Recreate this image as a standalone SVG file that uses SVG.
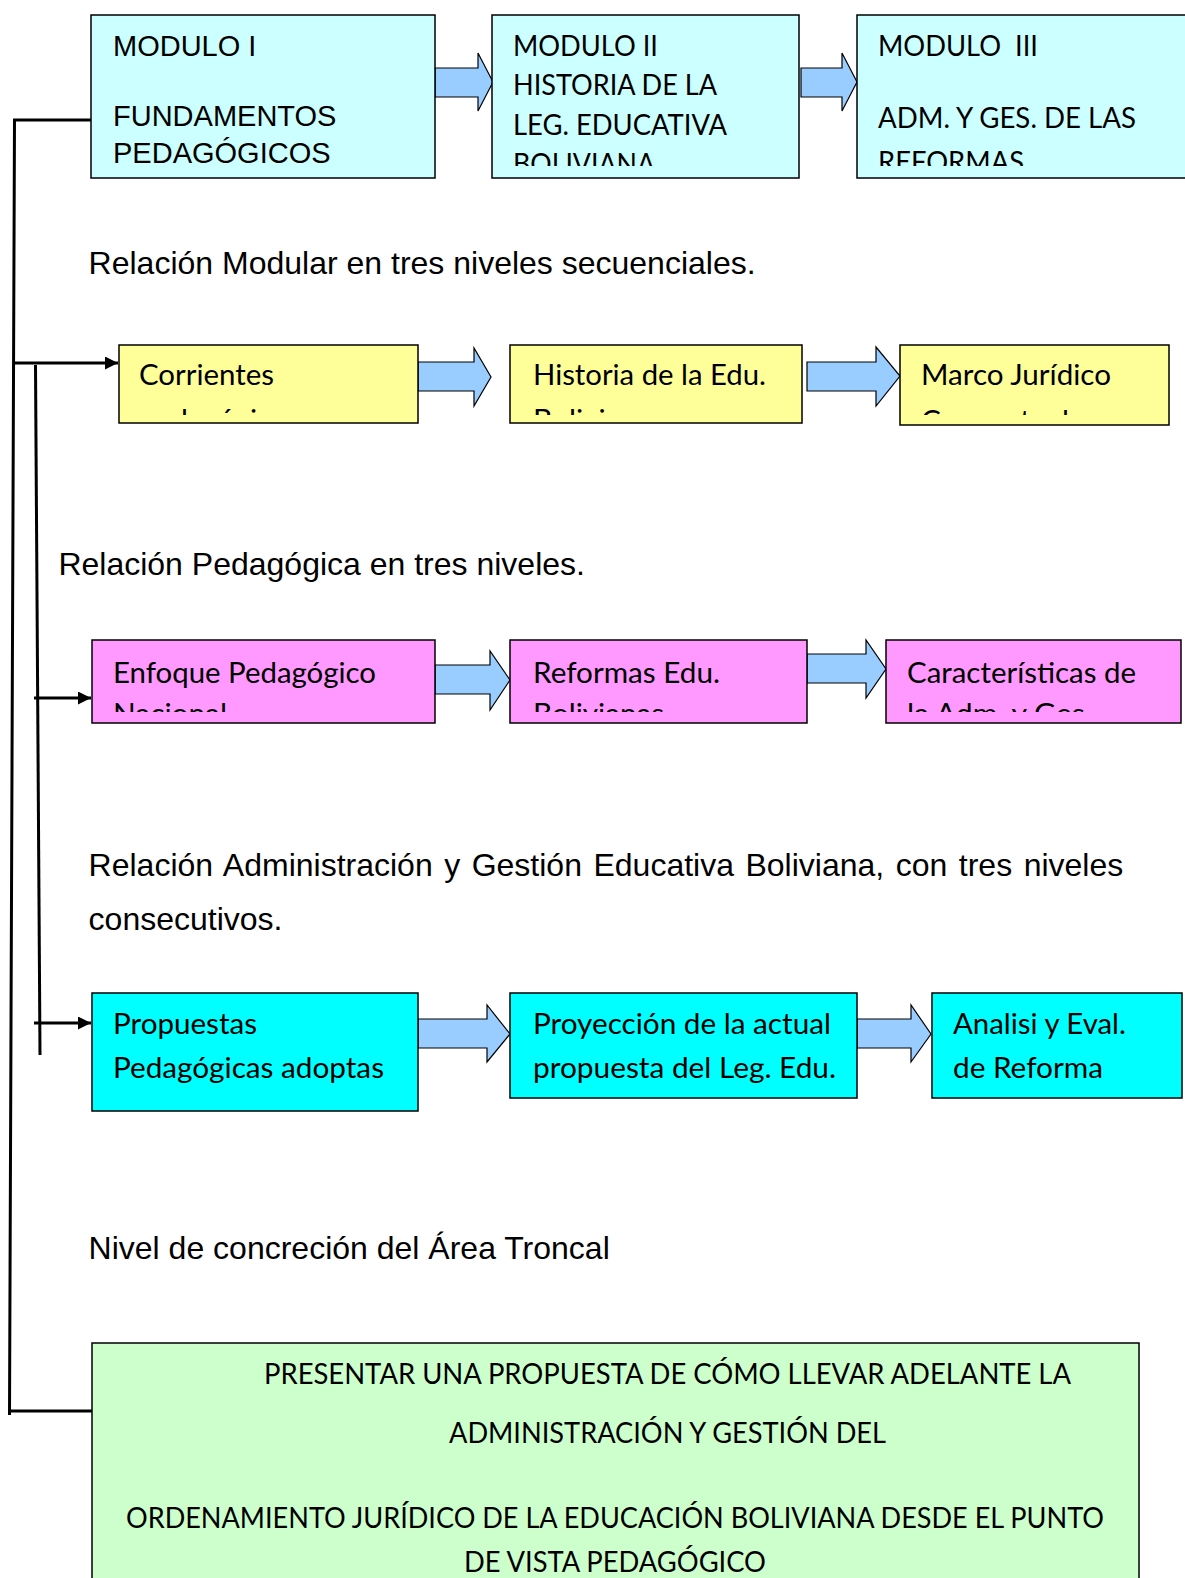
<svg xmlns="http://www.w3.org/2000/svg" width="1185" height="1578" viewBox="0 0 1185 1578">
<style>
.box{stroke:#000;stroke-width:1.5}
.m1{fill:#CCFFFF}.ye{fill:#FFFF99}.pk{fill:#FF99FF}.cy{fill:#00FFFF}.gr{fill:#CCFFCC}
.ba{fill:#99CCFF;stroke:#000;stroke-width:1.2}
.ar{font-family:"Liberation Sans",Arial,sans-serif;fill:#000}
.ca{font-family:Lato,"Open Sans",sans-serif;font-size:28.8px;fill:#000}
.conn{stroke:#000;stroke-width:3;fill:none}
</style>
<defs>
<marker id="ah" viewBox="0 0 10 10" refX="10" refY="5" markerUnits="userSpaceOnUse" markerWidth="15" markerHeight="13" orient="auto">
<path d="M0,0 L10,5 L0,10 z" fill="#000"/>
</marker>
<clipPath id="clip1"><rect x="0" y="0" width="1185" height="166"/></clipPath>
<clipPath id="clip2"><rect x="0" y="330" width="1185" height="85"/></clipPath>
<clipPath id="clip3"><rect x="0" y="630" width="1185" height="82"/></clipPath>
</defs>
<rect width="1185" height="1578" fill="#fff"/>

<g id="connectors">
<polyline class="conn" points="91,120 14.5,120 9.5,1415"/>
<line class="conn" x1="10" y1="1411" x2="92" y2="1411"/>
<line class="conn" x1="35.5" y1="365" x2="40" y2="1055"/>
<line class="conn" x1="14" y1="363" x2="118" y2="363" marker-end="url(#ah)"/>
<line class="conn" x1="34" y1="698" x2="91" y2="698" marker-end="url(#ah)"/>
<line class="conn" x1="34" y1="1023" x2="91" y2="1023" marker-end="url(#ah)"/>
<polygon class="ba" points="435,68 478,68 478,53 493,82 478,111 478,97 435,97"/>
<polygon class="ba" points="801,68 842,68 842,53 857,82 842,111 842,97 801,97"/>
<polygon class="ba" points="418,362 474,362 474,348 491,377 474,406 474,391 418,391"/>
<polygon class="ba" points="807,362 876,362 876,347 900,376 876,406 876,391 807,391"/>
<polygon class="ba" points="435,665 490,665 490,651 510,680 490,710 490,694 435,694"/>
<polygon class="ba" points="807,654 866,654 866,640 886,669 866,698 866,683 807,683"/>
<polygon class="ba" points="418,1019 487,1019 487,1005 510,1034 487,1062 487,1048 418,1048"/>
<polygon class="ba" points="857,1019 911,1019 911,1005 931,1034 911,1062 911,1048 857,1048"/>
</g>

<g id="modulo1">
<rect class="box m1" x="91" y="15" width="344" height="163"/>
<text class="ar" font-size="29" x="113" y="56">MODULO I</text>
<text class="ar" font-size="29" x="113" y="126">FUNDAMENTOS</text>
<text class="ar" font-size="29" x="113" y="163">PEDAGÓGICOS</text>
</g>
<g id="modulo2">
<rect class="box m1" x="492" y="15" width="307" height="163"/>
<g clip-path="url(#clip1)" class="ca">
<text x="513" y="56" textLength="145" lengthAdjust="spacingAndGlyphs">MODULO II</text>
<text x="513" y="95" textLength="204" lengthAdjust="spacingAndGlyphs">HISTORIA DE LA</text>
<text x="513" y="134.5" textLength="214" lengthAdjust="spacingAndGlyphs">LEG. EDUCATIVA</text>
<text x="513" y="173.5" textLength="142" lengthAdjust="spacingAndGlyphs">BOLIVIANA</text>
</g>
</g>
<g id="modulo3">
<rect class="box m1" x="857" y="15" width="335" height="163"/>
<g clip-path="url(#clip1)" class="ca">
<text x="878" y="56" textLength="160" lengthAdjust="spacingAndGlyphs" xml:space="preserve">MODULO  III</text>
<text x="878" y="128" textLength="258" lengthAdjust="spacingAndGlyphs">ADM. Y GES. DE LAS</text>
<text x="878" y="172" textLength="146" lengthAdjust="spacingAndGlyphs">REFORMAS</text>
</g>
</g>

<text class="ar" font-size="32" x="88.6" y="274">Relación Modular en tres niveles secuenciales.</text>

<g id="corrientes">
<rect class="box ye" x="119" y="345" width="299" height="78"/>
<g clip-path="url(#clip2)" class="ca">
<text x="139" y="385" textLength="135" lengthAdjust="spacingAndGlyphs">Corrientes</text>
<text x="139" y="430" textLength="160" lengthAdjust="spacingAndGlyphs">pedagógicas</text>
</g>
</g>
<g id="historia">
<rect class="box ye" x="510" y="345" width="292" height="78"/>
<g clip-path="url(#clip2)" class="ca">
<text x="533" y="385" textLength="233" lengthAdjust="spacingAndGlyphs">Historia de la Edu.</text>
<text x="533" y="430" textLength="119" lengthAdjust="spacingAndGlyphs">Boliviana</text>
</g>
</g>
<g id="marco">
<rect class="box ye" x="900" y="345" width="269" height="80"/>
<g clip-path="url(#clip2)" class="ca">
<text x="921" y="385" textLength="190" lengthAdjust="spacingAndGlyphs">Marco Jurídico</text>
<text x="921" y="431" textLength="148" lengthAdjust="spacingAndGlyphs">Conceptual</text>
</g>
</g>

<text class="ar" font-size="32" x="58.4" y="575">Relación Pedagógica en tres niveles.</text>

<g id="enfoque">
<rect class="box pk" x="92" y="640" width="343" height="83"/>
<g clip-path="url(#clip3)" class="ca">
<text x="113" y="683" textLength="263" lengthAdjust="spacingAndGlyphs">Enfoque Pedagógico</text>
<text x="113" y="724" textLength="114" lengthAdjust="spacingAndGlyphs">Nacional</text>
</g>
</g>
<g id="reformas">
<rect class="box pk" x="510" y="640" width="297" height="83"/>
<g clip-path="url(#clip3)" class="ca">
<text x="533" y="683" textLength="187" lengthAdjust="spacingAndGlyphs">Reformas Edu.</text>
<text x="533" y="724" textLength="131" lengthAdjust="spacingAndGlyphs">Bolivianas</text>
</g>
</g>
<g id="caracteristicas">
<rect class="box pk" x="886" y="640" width="295" height="83"/>
<g clip-path="url(#clip3)" class="ca">
<text x="907" y="683" textLength="229" lengthAdjust="spacingAndGlyphs">Características de</text>
<text x="907" y="724" textLength="185" lengthAdjust="spacingAndGlyphs">la Adm. y Ges.</text>
</g>
</g>

<text class="ar" font-size="32" x="88.6" y="876" word-spacing="2.6">Relación Administración y Gestión Educativa Boliviana, con tres niveles</text>
<text class="ar" font-size="32" x="88.6" y="930">consecutivos.</text>

<g id="propuestas">
<rect class="box cy" x="92" y="993" width="326" height="118"/>
<text class="ca" x="113" y="1034" textLength="144" lengthAdjust="spacingAndGlyphs">Propuestas</text>
<text class="ca" x="113" y="1078" textLength="271" lengthAdjust="spacingAndGlyphs">Pedagógicas adoptas</text>
</g>
<g id="proyeccion">
<rect class="box cy" x="510" y="993" width="347" height="105"/>
<text class="ca" x="533" y="1034" textLength="298" lengthAdjust="spacingAndGlyphs">Proyección de la actual</text>
<text class="ca" x="533" y="1078" textLength="303" lengthAdjust="spacingAndGlyphs">propuesta del Leg. Edu.</text>
</g>
<g id="analisi">
<rect class="box cy" x="932" y="993" width="250" height="105"/>
<text class="ca" x="953" y="1034" textLength="173" lengthAdjust="spacingAndGlyphs">Analisi y Eval.</text>
<text class="ca" x="953" y="1078" textLength="150" lengthAdjust="spacingAndGlyphs">de Reforma</text>
</g>

<text class="ar" font-size="32" x="88.6" y="1259">Nivel de concreción del Área Troncal</text>

<g id="propuesta-final">
<rect class="box gr" x="92" y="1343" width="1047" height="250"/>
<text class="ca" x="264" y="1384" textLength="807" lengthAdjust="spacingAndGlyphs">PRESENTAR UNA PROPUESTA DE CÓMO LLEVAR ADELANTE LA</text>
<text class="ca" x="449" y="1443" textLength="437" lengthAdjust="spacingAndGlyphs">ADMINISTRACIÓN Y GESTIÓN DEL</text>
<text class="ca" x="126" y="1528" textLength="978" lengthAdjust="spacingAndGlyphs">ORDENAMIENTO JURÍDICO DE LA EDUCACIÓN BOLIVIANA DESDE EL PUNTO</text>
<text class="ca" x="464" y="1572" textLength="302" lengthAdjust="spacingAndGlyphs">DE VISTA PEDAGÓGICO</text>
</g>
</svg>
